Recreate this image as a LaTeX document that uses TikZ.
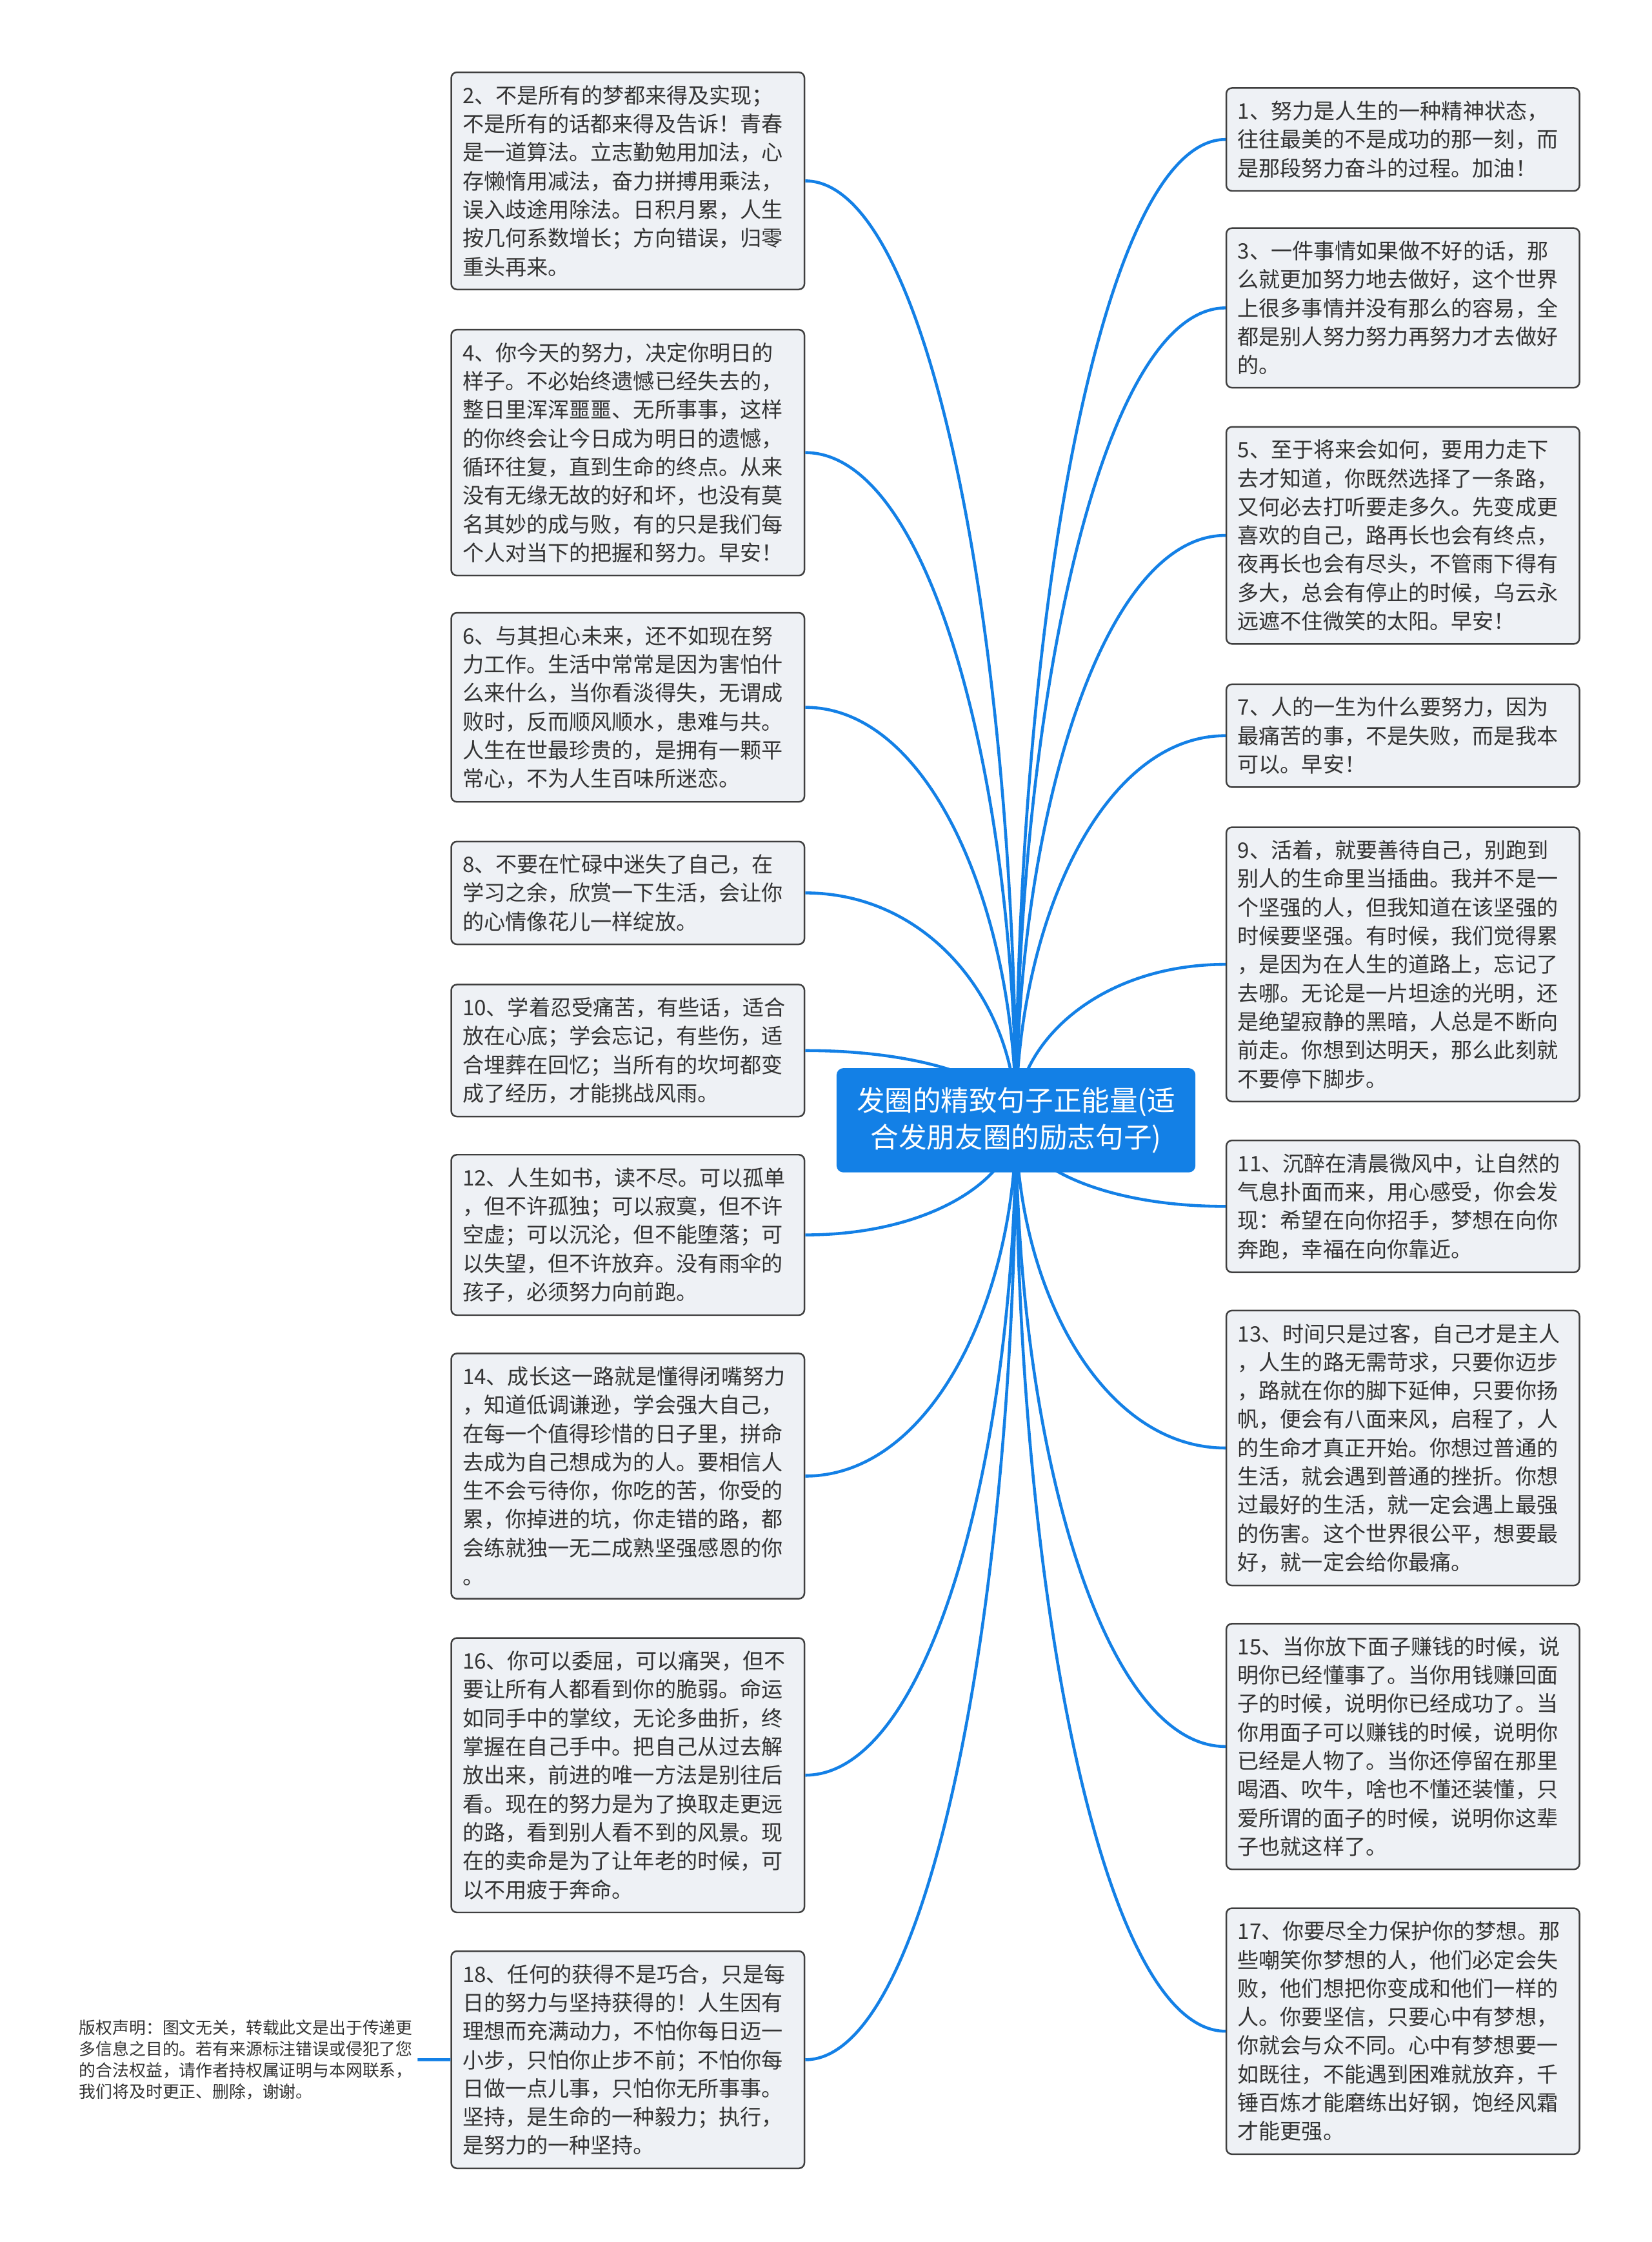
\documentclass[tikz,border=0pt]{standalone}
\usepackage{fontspec}
\setmainfont{Noto Sans CJK SC}
\usepackage{xcolor}
\usetikzlibrary{calc}
\definecolor{mapblue}{HTML}{1380E6}
\definecolor{boxfill}{HTML}{EEF1F5}
\definecolor{boxline}{HTML}{3F3F3F}
\definecolor{boxtext}{HTML}{333333}

\begin{document}
\begin{tikzpicture}[
  x=0.022165cm, y=-0.022165cm,
  tipbox/.style={draw=boxline, fill=boxfill, rounded corners=2.5pt, line width=0.7pt, anchor=north west,
    text width=145.8pt, inner xsep=5pt, inner ysep=5.7pt, align=left, text=boxtext,
    font=\fontsize{9.42pt}{12.61pt}\selectfont},
  rootbox/.style={fill=mapblue, rounded corners=3pt, minimum width=158.3pt, minimum height=46pt,
    text width=150pt, align=center, text=white, font=\fontsize{12.4pt}{16.4pt}\selectfont},
  link/.style={draw=mapblue, line width=1.3pt}
]
\fill[white] (0,0) rectangle (1155,1568);
\useasboundingbox (0,0) rectangle (1155,1568);

% Left column
\node[tipbox] (l2) at (315,50) {2、不是所有的梦都来得及实现；\\
不是所有的话都来得及告诉！青春\\
是一道算法。立志勤勉用加法，心\\
存懒惰用减法，奋力拼搏用乘法，\\
误入歧途用除法。日积月累，人生\\
按几何系数增长；方向错误，归零\\
重头再来。};
\node[tipbox] (l4) at (315,230) {4、你今天的努力，决定你明日的\\
样子。不必始终遗憾已经失去的，\\
整日里浑浑噩噩、无所事事，这样\\
的你终会让今日成为明日的遗憾，\\
循环往复，直到生命的终点。从来\\
没有无缘无故的好和坏，也没有莫\\
名其妙的成与败，有的只是我们每\\
个人对当下的把握和努力。早安！};
\node[tipbox] (l6) at (315,428) {6、与其担心未来，还不如现在努\\
力工作。生活中常常是因为害怕什\\
么来什么，当你看淡得失，无谓成\\
败时，反而顺风顺水，患难与共。\\
人生在世最珍贵的，是拥有一颗平\\
常心，不为人生百味所迷恋。};
\node[tipbox] (l8) at (315,588) {8、不要在忙碌中迷失了自己，在\\
学习之余，欣赏一下生活，会让你\\
的心情像花儿一样绽放。};
\node[tipbox] (l10) at (315,688) {10、学着忍受痛苦，有些话，适合\\
放在心底；学会忘记，有些伤，适\\
合埋葬在回忆；当所有的坎坷都变\\
成了经历，才能挑战风雨。};
\node[tipbox] (l12) at (315,807) {12、人生如书，读不尽。可以孤单\\
，但不许孤独；可以寂寞，但不许\\
空虚；可以沉沦，但不能堕落；可\\
以失望，但不许放弃。没有雨伞的\\
孩子，必须努力向前跑。};
\node[tipbox] (l14) at (315,946) {14、成长这一路就是懂得闭嘴努力\\
，知道低调谦逊，学会强大自己，\\
在每一个值得珍惜的日子里，拼命\\
去成为自己想成为的人。要相信人\\
生不会亏待你，你吃的苦，你受的\\
累，你掉进的坑，你走错的路，都\\
会练就独一无二成熟坚强感恩的你\\
。};
\node[tipbox] (l16) at (315,1145) {16、你可以委屈，可以痛哭，但不\\
要让所有人都看到你的脆弱。命运\\
如同手中的掌纹，无论多曲折，终\\
掌握在自己手中。把自己从过去解\\
放出来，前进的唯一方法是别往后\\
看。现在的努力是为了换取走更远\\
的路，看到别人看不到的风景。现\\
在的卖命是为了让年老的时候，可\\
以不用疲于奔命。};
\node[tipbox] (l18) at (315,1364) {18、任何的获得不是巧合，只是每\\
日的努力与坚持获得的！人生因有\\
理想而充满动力，不怕你每日迈一\\
小步，只怕你止步不前；不怕你每\\
日做一点儿事，只怕你无所事事。\\
坚持，是生命的一种毅力；执行，\\
是努力的一种坚持。};

% Right column
\node[tipbox] (r1) at (857,61) {1、努力是人生的一种精神状态，\\
往往最美的不是成功的那一刻，而\\
是那段努力奋斗的过程。加油！};
\node[tipbox] (r3) at (857,159) {3、一件事情如果做不好的话，那\\
么就更加努力地去做好，这个世界\\
上很多事情并没有那么的容易，全\\
都是别人努力努力再努力才去做好\\
的。};
\node[tipbox] (r5) at (857,298) {5、至于将来会如何，要用力走下\\
去才知道，你既然选择了一条路，\\
又何必去打听要走多久。先变成更\\
喜欢的自己，路再长也会有终点，\\
夜再长也会有尽头，不管雨下得有\\
多大，总会有停止的时候，乌云永\\
远遮不住微笑的太阳。早安！};
\node[tipbox] (r7) at (857,478) {7、人的一生为什么要努力，因为\\
最痛苦的事，不是失败，而是我本\\
可以。早安！};
\node[tipbox] (r9) at (857,578) {9、活着，就要善待自己，别跑到\\
别人的生命里当插曲。我并不是一\\
个坚强的人，但我知道在该坚强的\\
时候要坚强。有时候，我们觉得累\\
，是因为在人生的道路上，忘记了\\
去哪。无论是一片坦途的光明，还\\
是绝望寂静的黑暗，人总是不断向\\
前走。你想到达明天，那么此刻就\\
不要停下脚步。};
\node[tipbox] (r11) at (857,797) {11、沉醉在清晨微风中，让自然的\\
气息扑面而来，用心感受，你会发\\
现：希望在向你招手，梦想在向你\\
奔跑，幸福在向你靠近。};
\node[tipbox] (r13) at (857,916) {13、时间只是过客，自己才是主人\\
，人生的路无需苛求，只要你迈步\\
，路就在你的脚下延伸，只要你扬\\
帆，便会有八面来风，启程了，人\\
的生命才真正开始。你想过普通的\\
生活，就会遇到普通的挫折。你想\\
过最好的生活，就一定会遇上最强\\
的伤害。这个世界很公平，想要最\\
好，就一定会给你最痛。};
\node[tipbox] (r15) at (857,1135) {15、当你放下面子赚钱的时候，说\\
明你已经懂事了。当你用钱赚回面\\
子的时候，说明你已经成功了。当\\
你用面子可以赚钱的时候，说明你\\
已经是人物了。当你还停留在那里\\
喝酒、吹牛，啥也不懂还装懂，只\\
爱所谓的面子的时候，说明你这辈\\
子也就这样了。};
\node[tipbox] (r17) at (857,1334) {17、你要尽全力保护你的梦想。那\\
些嘲笑你梦想的人，他们必定会失\\
败，他们想把你变成和他们一样的\\
人。你要坚信，只要心中有梦想，\\
你就会与众不同。心中有梦想要一\\
如既往，不能遇到困难就放弃，千\\
锤百炼才能磨练出好钢，饱经风霜\\
才能更强。};

% Copyright note
\node[anchor=east, inner xsep=2pt, inner ysep=0pt, align=left, text=boxtext,
  font=\fontsize{7.35pt}{9.46pt}\selectfont] (notice) at (292,1440.5) {版权声明：图文无关，转载此文是出于传递更\\
多信息之目的。若有来源标注错误或侵犯了您\\
的合法权益，请作者持权属证明与本网联系，\\
我们将及时更正、删除，谢谢。};
\draw[link] (notice.east) -- (l18.west);

% Branches to the centre
\coordinate (hub) at (710.5,783.5);
\foreach \n in {l2,l4,l6,l8,l10,l12,l14,l16,l18}
  \draw[link] (\n.east) .. controls ($(\n.east)!0.6!(hub |- \n.east)$) and ($(hub)!0.5!(hub |- \n.east)$) .. (hub);
\foreach \n in {r1,r3,r5,r7,r9,r11,r13,r15,r17}
  \draw[link] (\n.west) .. controls ($(\n.west)!0.6!(hub |- \n.west)$) and ($(hub)!0.5!(hub |- \n.west)$) .. (hub);

% Centre topic
\node[rootbox] (root) at (hub) {发圈的精致句子正能量(适\\合发朋友圈的励志句子)};
\end{tikzpicture}
\end{document}
